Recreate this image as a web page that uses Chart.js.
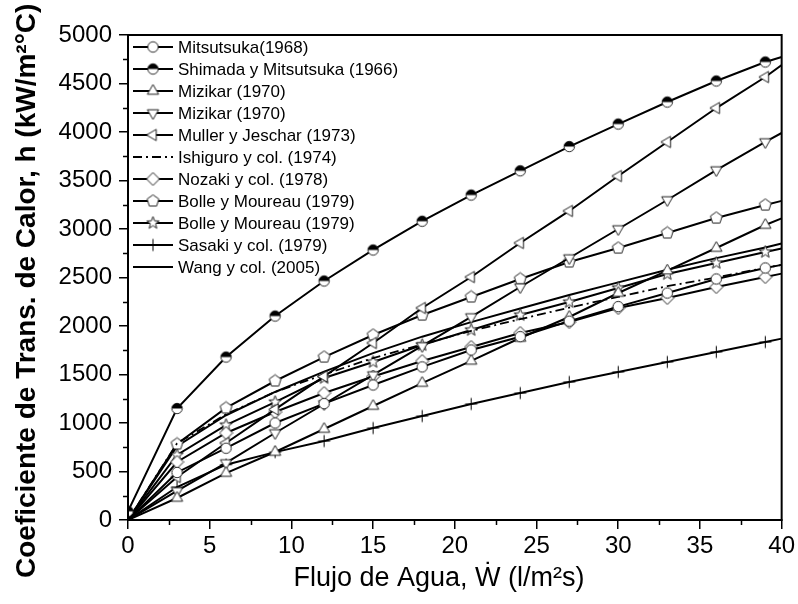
<!DOCTYPE html>
<html>
<head>
<meta charset="utf-8">
<script src="https://cdn.jsdelivr.net/npm/chart.js@4.4.0/dist/chart.umd.min.js"></script>
<style>
  html, body { margin: 0; padding: 0; background: #fff; }
</style>
</head>
<body>
<canvas id="chart" width="798" height="604"></canvas>
<script>
// Water flux (l/m2s) at which every curve was sampled
const flujo = [0, 3, 6, 9, 12, 15, 18, 21, 24, 27, 30, 33, 36, 39, 40];

// Heat transfer coefficient h (kW/m2 C)
const hMitsutsuka = [0, 490, 740, 1000, 1200, 1392, 1578, 1753, 1890, 2050, 2200, 2340, 2485, 2598, 2630];
const hShimada    = [90, 1150, 1680, 2103, 2464, 2784, 3080, 3350, 3600, 3850, 4082, 4309, 4526, 4722, 4773];
const hMizikarUp  = [0, 227, 484, 701, 938, 1175, 1412, 1640, 1876, 2093, 2340, 2570, 2804, 3041, 3110];
const hMizikarDn  = [0, 300, 588, 897, 1196, 1495, 1795, 2093, 2402, 2701, 3000, 3299, 3608, 3897, 3990];
const hMuller     = [0, 443, 794, 1140, 1480, 1825, 2186, 2505, 2856, 3186, 3546, 3897, 4247, 4567, 4690];
const hIshiguro   = [0, 790, 1090, 1320, 1500, 1670, 1810, 1950, 2070, 2190, 2300, 2410, 2500, 2600, 2630];
const hNozaki     = [0, 598, 897, 1113, 1309, 1480, 1639, 1784, 1928, 2041, 2185, 2289, 2402, 2505, 2540];
const hBolleA     = [0, 784, 1155, 1433, 1680, 1907, 2113, 2299, 2485, 2660, 2804, 2959, 3113, 3247, 3290];
const hBolleB     = [0, 670, 979, 1216, 1464, 1629, 1804, 1959, 2113, 2247, 2392, 2536, 2650, 2763, 2800];
const hSasaki     = [0, 340, 570, 700, 814, 948, 1072, 1196, 1309, 1423, 1526, 1629, 1732, 1835, 1870];
const hWang       = [0, 760, 1080, 1320, 1530, 1720, 1890, 2040, 2180, 2320, 2450, 2580, 2700, 2810, 2850];

const seriesNames = [
  'Mitsutsuka(1968)', 'Shimada y Mitsutsuka (1966)', 'Mizikar (1970)', 'Mizikar (1970)',
  'Muller y Jeschar (1973)', 'Ishiguro y col. (1974)', 'Nozaki y col. (1978)',
  'Bolle y Moureau (1979)', 'Bolle y Moureau (1979)', 'Sasaki y col. (1979)', 'Wang y col. (2005)'
];

const xTicks = [0, 5, 10, 15, 20, 25, 30, 35, 40];
const yTicks = [0, 500, 1000, 1500, 2000, 2500, 3000, 3500, 4000, 4500, 5000];

const xTitle = 'Flujo de Agua, \u1E86 (l/m\u00B2s)';
const yTitle = 'Coeficiente de Trans. de Calor, h (kW/m\u00B2\u00B0C)';

const FONT = '"Liberation Sans", Arial, sans-serif';

// Build the open markers as small canvases so they can be used as pointStyle
function polygon(ctx, n, r, startDeg) {
  for (let i = 0; i < n; i++) {
    const a = (startDeg + i * 360 / n) * Math.PI / 180;
    const px = r * Math.cos(a), py = r * Math.sin(a);
    if (i === 0) ctx.moveTo(px, py); else ctx.lineTo(px, py);
  }
  ctx.closePath();
}

function makeMarker(kind) {
  const c = document.createElement('canvas');
  c.width = 15; c.height = 15;
  const ctx = c.getContext('2d');
  ctx.translate(7.5, 7.5);
  ctx.lineWidth = 1;
  ctx.strokeStyle = '#222';
  ctx.fillStyle = '#fff';
  ctx.beginPath();
  if (kind === 'circle' || kind === 'half') {
    ctx.arc(0, 0, 5.2, 0, Math.PI * 2);
  } else if (kind === 'triUp') {
    polygon(ctx, 3, 6.5, -90);
  } else if (kind === 'triDown') {
    polygon(ctx, 3, 6.5, 90);
  } else if (kind === 'triLeft') {
    polygon(ctx, 3, 6.5, 180);
  } else if (kind === 'diamond') {
    polygon(ctx, 4, 6.5, -90);
  } else if (kind === 'pentagon') {
    polygon(ctx, 5, 6.2, -90);
  } else if (kind === 'star') {
    for (let i = 0; i < 10; i++) {
      const a = (-90 + i * 36) * Math.PI / 180;
      const r = i % 2 ? 2.7 : 6.5;
      if (i === 0) ctx.moveTo(r * Math.cos(a), r * Math.sin(a));
      else ctx.lineTo(r * Math.cos(a), r * Math.sin(a));
    }
    ctx.closePath();
  }
  if (kind === 'plus') {
    ctx.strokeStyle = '#000';
    ctx.moveTo(0, -6); ctx.lineTo(0, 6);
    ctx.moveTo(-6, 0); ctx.lineTo(6, 0);
    ctx.stroke();
    return c;
  }
  ctx.fill();
  ctx.stroke();
  if (kind === 'half') {
    ctx.beginPath();
    ctx.arc(0, 0, 5.2, Math.PI, Math.PI * 2);
    ctx.closePath();
    ctx.fillStyle = '#000';
    ctx.fill();
  }
  return c;
}

function series(label, values, kind, extra) {
  const marker = kind ? makeMarker(kind) : null;
  const markAtZero = values[0] > 0;
  return Object.assign({
    label: label,
    data: flujo.map((x, i) => ({ x: x, y: values[i] })),
    borderColor: '#000',
    borderWidth: 2,
    tension: 0,
    fill: false,
    marker: marker,
    pointStyle: marker || false,
    pointRadius: flujo.map((x, i) => {
      if (!marker) return 0;
      if (i === flujo.length - 1) return 0;
      if (i === 0 && !markAtZero) return 0;
      return 6;
    })
  }, extra || {});
}

const datasets = [
  series(seriesNames[0], hMitsutsuka, 'circle'),
  series(seriesNames[1], hShimada, 'half'),
  series(seriesNames[2], hMizikarUp, 'triUp'),
  series(seriesNames[3], hMizikarDn, 'triDown'),
  series(seriesNames[4], hMuller, 'triLeft'),
  series(seriesNames[5], hIshiguro, null, { borderDash: [9, 4, 2, 4], borderWidth: 1.8 }),
  series(seriesNames[6], hNozaki, 'diamond'),
  series(seriesNames[7], hBolleA, 'pentagon'),
  series(seriesNames[8], hBolleB, 'star'),
  series(seriesNames[9], hSasaki, 'plus'),
  series(seriesNames[10], hWang, null)
];

// Legend drawn inside the plot: line sample with marker in the middle
const lineLegend = {
  id: 'lineLegend',
  afterDraw(chart) {
    const ctx = chart.ctx;
    ctx.save();
    chart.data.datasets.forEach((ds, i) => {
      const y = 47 + i * 22;
      ctx.beginPath();
      ctx.setLineDash(ds.borderDash || []);
      ctx.lineWidth = 2;
      ctx.strokeStyle = '#000';
      ctx.moveTo(133, y);
      ctx.lineTo(173, y);
      ctx.stroke();
      ctx.setLineDash([]);
      if (ds.marker) ctx.drawImage(ds.marker, 153 - ds.marker.width / 2, y - ds.marker.height / 2);
      ctx.fillStyle = '#000';
      ctx.font = '17px ' + FONT;
      ctx.textBaseline = 'middle';
      ctx.fillText(ds.label, 178, y + 1);
    });
    ctx.restore();
  }
};

// Plot frame, short minor ticks, and the two axis titles
const frameAndTitles = {
  id: 'frameAndTitles',
  afterDraw(chart) {
    const { ctx, chartArea: a, scales } = chart;
    ctx.save();
    ctx.strokeStyle = '#000';
    ctx.lineWidth = 2;
    ctx.strokeRect(a.left, a.top, a.right - a.left, a.bottom - a.top);
    ctx.lineWidth = 1.5;
    ctx.beginPath();
    for (let v = 2.5; v < 40; v += 5) {
      const px = Math.round(scales.x.getPixelForValue(v)) + 0.5;
      ctx.moveTo(px, a.bottom);
      ctx.lineTo(px, a.bottom + 5);
    }
    for (let v = 250; v < 5000; v += 500) {
      const py = Math.round(scales.y.getPixelForValue(v)) + 0.5;
      ctx.moveTo(a.left, py);
      ctx.lineTo(a.left - 5, py);
    }
    ctx.stroke();

    ctx.fillStyle = '#000';
    ctx.font = '27px ' + FONT;
    ctx.textAlign = 'center';
    ctx.textBaseline = 'middle';
    ctx.fillText(xTitle, 439, 579);

    ctx.translate(27, 578);
    ctx.rotate(-Math.PI / 2);
    ctx.font = 'bold 28px ' + FONT;
    ctx.textAlign = 'left';
    ctx.fillText(yTitle, 0, 0);
    ctx.restore();
  }
};

new Chart(document.getElementById('chart'), {
  type: 'line',
  data: { datasets: datasets },
  plugins: [frameAndTitles, lineLegend],
  options: {
    responsive: false,
    animation: false,
    events: [],
    layout: { padding: { top: 35, right: 16, left: 0, bottom: 0 } },
    plugins: {
      legend: { display: false },
      tooltip: { enabled: false }
    },
    scales: {
      x: {
        type: 'linear',
        min: 0,
        max: 40,
        afterBuildTicks(scale) { scale.ticks = xTicks.map(v => ({ value: v })); },
        afterFit(scale) { scale.height = 84; },
        ticks: { color: '#000', font: { family: FONT, size: 24 }, padding: 3, maxRotation: 0,
                 callback: v => String(v) },
        grid: { drawOnChartArea: false, tickLength: 9, color: '#000', lineWidth: 1.5 },
        border: { display: true, color: '#000', width: 2 }
      },
      y: {
        min: 0,
        max: 5000,
        afterBuildTicks(scale) { scale.ticks = yTicks.map(v => ({ value: v })); },
        afterFit(scale) { scale.width = 128; },
        ticks: { color: '#000', font: { family: FONT, size: 24 }, padding: 7,
                 callback: v => String(v) },
        grid: { drawOnChartArea: false, tickLength: 9, color: '#000', lineWidth: 1.5 },
        border: { display: true, color: '#000', width: 2 }
      }
    }
  }
});
</script>
</body>
</html>
